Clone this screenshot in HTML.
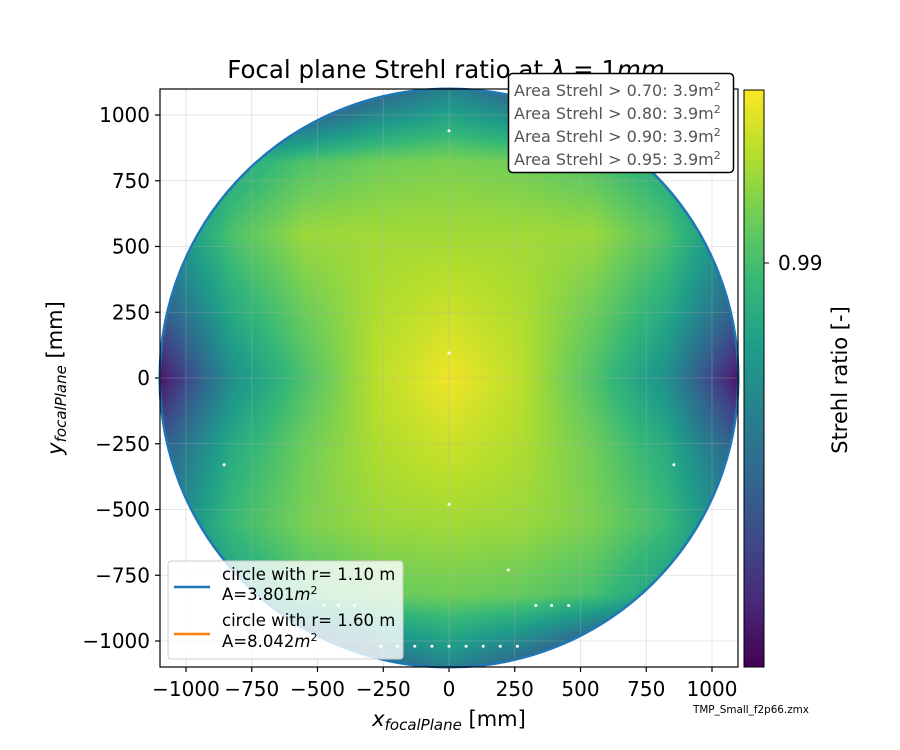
<!DOCTYPE html>
<html><head><meta charset="utf-8"><style>
body{margin:0;background:#fff;font-family:"Liberation Sans","DejaVu Sans",sans-serif}
#wrap{position:relative;width:900px;height:750px}
canvas,svg{position:absolute;left:0;top:0}
</style></head><body>
<div id="wrap">
<canvas id="cv" width="900" height="750"></canvas>
<svg id="sv" width="900" height="750" font-family="DejaVu Sans, Liberation Sans, sans-serif"></svg>
</div>
<script>
const gridX=[-1100,-825,-550,-275,0,275,550,825,1100];
const gridY=[1100,825,550,275,0,-275,-550,-825,-1100];
const row0=[0,0,0.08,0.3,0.45,0.3,0.08,0,0];
const row1=[0.3,0.6,0.72,0.78,0.8,0.78,0.72,0.6,0.3];
const row2=[0.45,0.72,0.85,0.86,0.86,0.86,0.85,0.72,0.45];
const row3=[0.3,0.62,0.78,0.88,0.92,0.88,0.78,0.62,0.3];
const row4=[0.05,0.5,0.72,0.9,0.98,0.9,0.72,0.5,0.05];
const row5=[0.3,0.62,0.78,0.88,0.92,0.88,0.78,0.62,0.3];
const row6=[0.4,0.68,0.8,0.85,0.86,0.85,0.8,0.68,0.4];
const row7=[0.3,0.55,0.7,0.76,0.78,0.76,0.7,0.55,0.3];
const row8=[0,0,0.05,0.3,0.45,0.3,0.05,0,0];
const values=[row0,row1,row2,row3,row4,row5,row6,row7,row8];
const xTicks=[-1000,-750,-500,-250,0,250,500,750,1000];
const yTicks=[-1000,-750,-500,-250,0,250,500,750,1000];
const dotsX=[0,0,0,-855,855,225,330,390,455,-475,-420,-360,-260,-195,-130,-65,0,65,130,195,260];
const dotsY=[940,95,-480,-330,-330,-730,-865,-865,-865,-865,-865,-865,-1020,-1020,-1020,-1020,-1020,-1020,-1020,-1020,-1020];
const L=160,R=738,T=89,B=667;
const X=v=>449+v*0.263, Y=v=>378-v*0.263;
const vir=[[68,1,84],[72,40,120],[62,74,137],[49,104,142],[38,130,142],[31,158,137],[53,183,121],[109,205,89],[180,222,44],[253,231,37]];
function cmap(t){t=Math.max(0,Math.min(1,t))*9;const i=Math.min(8,Math.floor(t)),f=t-i;return vir[i].map((c,k)=>Math.round(c+(vir[i+1][k]-c)*f));}
function val(x,y){
 let fx=(x-gridX[0])/275, fy=(gridY[0]-y)/275;
 fx=Math.max(0,Math.min(7.999,fx)); fy=Math.max(0,Math.min(7.999,fy));
 const i=Math.floor(fx),j=Math.floor(fy),a=fx-i,b=fy-j;
 return values[j][i]*(1-a)*(1-b)+values[j][i+1]*a*(1-b)+values[j+1][i]*(1-a)*b+values[j+1][i+1]*a*b;
}
const cv=document.getElementById('cv'),ctx=cv.getContext('2d');
const img=ctx.createImageData(900,750);
for(let py=T;py<B;py++)for(let px=L;px<R;px++){
 const x=(px-449)/0.263,y=(378-py)/0.263;
 let k=(py*900+px)*4;
 if(x*x+y*y>1100*1100){img.data[k]=255;img.data[k+1]=255;img.data[k+2]=255;img.data[k+3]=255;continue;}
 const c=cmap(val(x,y));img.data[k]=c[0];img.data[k+1]=c[1];img.data[k+2]=c[2];img.data[k+3]=255;
}
for(let py=90;py<667;py++){const c=cmap((667-py)/577);for(let px=744;px<764;px++){let k=(py*900+px)*4;img.data[k]=c[0];img.data[k+1]=c[1];img.data[k+2]=c[2];img.data[k+3]=255;}}
ctx.putImageData(img,0,0);
const sv=document.getElementById('sv'),NS='http://www.w3.org/2000/svg';
function el(t,a,txt){const e=document.createElementNS(NS,t);for(const k in a)e.setAttribute(k,a[k]);if(txt!=null)e.textContent=txt;sv.appendChild(e);return e;}
xTicks.forEach(v=>{
 const g=el('line',{x1:X(v),x2:X(v),y1:T,y2:B,stroke:'#b0b0b0','stroke-opacity':0.4,'stroke-width':0.8});
 
 const t=el('line',{x1:X(v),x2:X(v),y1:B,y2:B+5,stroke:'#000','stroke-width':1.2});
 
 const l=el('text',{x:X(v),y:B+29,'text-anchor':'middle','font-size':20},String(v).replace('-','\u2212'));
 
});
yTicks.forEach(v=>{
 const g=el('line',{x1:L,x2:R,y1:Y(v),y2:Y(v),stroke:'#b0b0b0','stroke-opacity':0.4,'stroke-width':0.8});
 
 const t=el('line',{x1:L-5,x2:L,y1:Y(v),y2:Y(v),stroke:'#000','stroke-width':1.2});
 
 const l=el('text',{x:L-10,y:Y(v)+7,'text-anchor':'end','font-size':20},String(v).replace('-','\u2212'));
 
});
dotsX.forEach((dx,i)=>{const d=el('circle',{cx:X(dx),cy:Y(dotsY[i]),r:1.5,fill:'#fff'});
 });
const c1=el('circle',{cx:449,cy:378,r:1100*0.263,fill:'none',stroke:'#1f77b4','stroke-width':2.5});

</script>
<svg width="900" height="750" style="position:absolute;left:0;top:0" font-family="DejaVu Sans, Liberation Sans, sans-serif">
<rect x="160" y="89" width="578" height="578" fill="none" stroke="#000" stroke-width="1.2"/>
<text x="446" y="78" text-anchor="middle" font-size="24.5">Focal plane Strehl ratio at <tspan font-style="italic">λ</tspan> = 1<tspan font-style="italic">mm</tspan></text>
<g>
<rect x="508.5" y="73.5" width="225" height="99" rx="4" fill="#fff" stroke="#000" stroke-width="1.5"/>
<g font-size="16" fill="#555">
<text x="514" y="96">Area Strehl &gt; 0.70: 3.9m<tspan dy="-6" font-size="11">2</tspan></text>
<text x="514" y="119">Area Strehl &gt; 0.80: 3.9m<tspan dy="-6" font-size="11">2</tspan></text>
<text x="514" y="142">Area Strehl &gt; 0.90: 3.9m<tspan dy="-6" font-size="11">2</tspan></text>
<text x="514" y="165">Area Strehl &gt; 0.95: 3.9m<tspan dy="-6" font-size="11">2</tspan></text>
</g></g>
<g>
<rect x="168" y="561" width="235" height="98" rx="3" fill="#fff" fill-opacity="0.8" stroke="#ccc"/>
<line x1="174" y1="587" x2="210" y2="587" stroke="#1f77b4" stroke-width="2.5"/>
<text x="222" y="580" font-size="16.5">circle with r= 1.10 m</text>
<text x="222" y="600" font-size="16.5">A=3.801<tspan font-style="italic">m</tspan><tspan dy="-6" font-size="11">2</tspan></text>
<line x1="174" y1="634" x2="210" y2="634" stroke="#ff7f0e" stroke-width="2.5"/>
<text x="222" y="626" font-size="16.5">circle with r= 1.60 m</text>
<text x="222" y="647" font-size="16.5">A=8.042<tspan font-style="italic">m</tspan><tspan dy="-6" font-size="11">2</tspan></text>
</g>
<text x="449" y="726" text-anchor="middle" font-size="21"><tspan font-style="italic">x</tspan><tspan font-style="italic" font-size="15" dy="4">focalPlane</tspan><tspan dy="-4"> [mm]</tspan></text>
<text transform="translate(62,378) rotate(-90)" text-anchor="middle" font-size="21"><tspan font-style="italic">y</tspan><tspan font-style="italic" font-size="15" dy="4">focalPlane</tspan><tspan dy="-4"> [mm]</tspan></text>
<rect x="744" y="90" width="20" height="577" fill="none" stroke="#000" stroke-width="1"/>
<line x1="764" y1="263" x2="769" y2="263" stroke="#000"/>
<text x="778" y="270" font-size="20">0.99</text>
<text transform="translate(847,380) rotate(-90)" text-anchor="middle" font-size="21">Strehl ratio [-]</text>
<text x="693" y="713" font-size="10.4">TMP_Small_f2p66.zmx</text>
</svg>
</body></html>
